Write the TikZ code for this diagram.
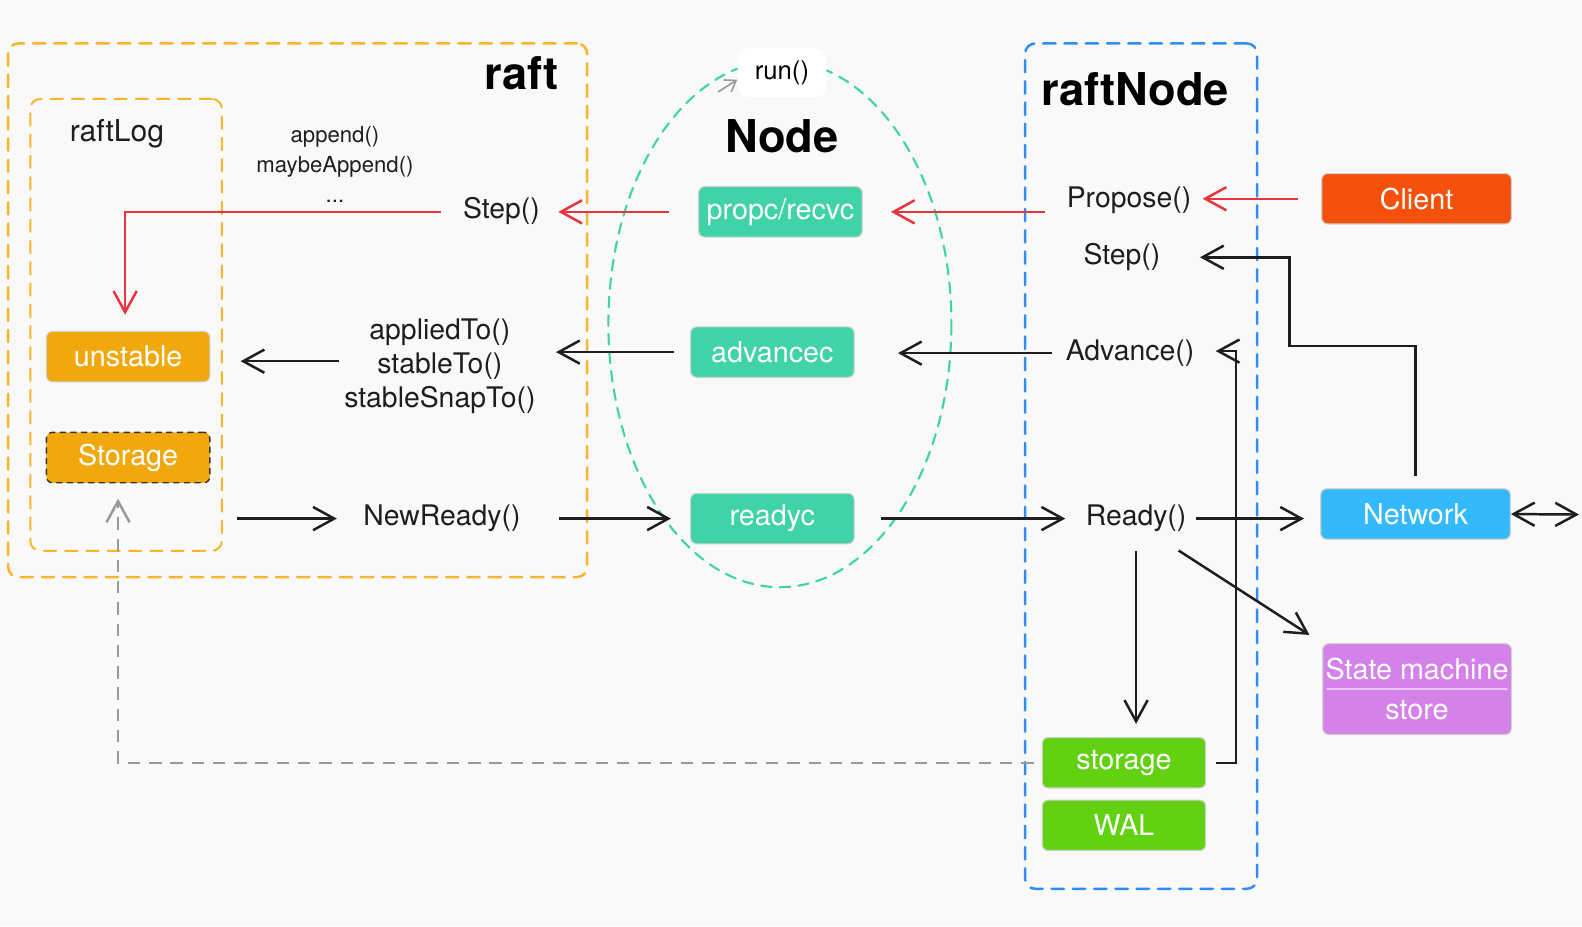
\documentclass[tikz,border=0pt]{standalone}
\usepackage{fontspec}
\setmainfont{TeX Gyre Heros}
\usepackage{tikz}
\usetikzlibrary{arrows.meta}
\definecolor{bggray}{HTML}{F9F9F9}
\definecolor{raftorange}{HTML}{F7B52C}
\definecolor{logorange}{HTML}{F0A80C}
\definecolor{chanteal}{HTML}{40D3A8}
\definecolor{raftred}{HTML}{E8343F}
\definecolor{nodeblue}{HTML}{2F8EF5}
\definecolor{clientred}{HTML}{F5500C}
\definecolor{netblue}{HTML}{33B9FC}
\definecolor{smpurple}{HTML}{D482EA}
\definecolor{walgreen}{HTML}{62D111}
\definecolor{linegray}{HTML}{1E1E1E}

\begin{document}
\begin{tikzpicture}[x=0.02cm, y=-0.02cm, every path/.style={line cap=round}]

        \tikzset{box/.style = {rectangle, rounded corners=0.12cm, draw=black!18, line width=0.6pt, text=white,
                minimum width=3.24cm, minimum height=1cm, inner sep=0pt, font=\fontsize{16.2}{19}\selectfont}}
        \tikzset{fn/.style = {inner sep=0pt, text=linegray, font=\fontsize{16}{19}\selectfont}}
        \tikzset{title/.style = {inner sep=0pt, text=black, font=\fontsize{25.5}{30}\selectfont\bfseries}}
        \tikzset{frame/.style = {rectangle, rounded corners=0.2cm, line width=1.4pt, dash pattern=on 7pt off 5pt, inner sep=0pt}}
        \tikzset{edge/.style = {draw=linegray, line width=1.4pt, line cap=butt, -{Straight Barb[length=0.42cm,width=0.46cm,line width=1.4pt]}}}
        \tikzset{redge/.style = {edge, draw=raftred, line width=1.2pt}}

        \useasboundingbox[fill=bggray] (0,0) rectangle (1568,918);

        % containers
        \node[frame, draw=raftorange, minimum width=11.48cm, minimum height=10.58cm] (raft) at (295,307.5) {};
        \node[frame, draw=raftorange, line width=1.1pt, minimum width=3.8cm, minimum height=8.96cm] (raftlog) at (125,322) {};
        \node[frame, draw=nodeblue, minimum width=4.6cm, minimum height=16.76cm] (raftnode) at (1131,462) {};
        \draw[chanteal, line width=1.2pt, dash pattern=on 6pt off 4.5pt] (773,321) ellipse (170 and 261);

        % titles
        \node[title] (rafttitle) at (517,73) {raft};
        \node[title] (nodetitle) at (775,135) {Node};
        \node[title] (raftnodetitle) at (1125,88) {raftNode};
        \node[fn, font=\fontsize{17}{20}\selectfont] (raftlogtitle) at (116,133) {raftLog};
        \node[fill=white, rounded corners=0.2cm, minimum width=1.76cm, minimum height=0.96cm, inner sep=0pt,
              font=\fontsize{14.5}{17}\selectfont] (run) at (775,72) {run()};
        \coordinate (ringarrow) at (712,91);
        \draw[black!40, line width=0.9pt, -{Straight Barb[length=0.2cm,width=0.28cm]}]
              (ringarrow) -- ([yshift=-0.14cm]run.west);

        % raft
        \node[box, fill=logorange] (unstable) at (127,353.5) {unstable};
        \node[box, fill=logorange, draw=black!80, dashed, line width=0.8pt] (logstore) at (127,453.5) {Storage};
        \node[fn, align=center, font=\fontsize{12.5}{17}\selectfont] (appendfn) at (332,163) {append()\\maybeAppend()\\...};
        \node[fn] (step1) at (497,209) {Step()};
        \node[fn, align=center, font=\fontsize{16}{19}\selectfont] (applied) at (436,363) {appliedTo()\\stableTo()\\stableSnapTo()};
        \node[fn] (newready) at (438,514) {NewReady()};

        % Node
        \node[box, fill=chanteal] (propc) at (773.5,210) {propc/recvc};
        \node[box, fill=chanteal] (advancec) at (765.5,349) {advancec};
        \node[box, fill=chanteal] (readyc) at (765.5,514) {readyc};

        % raftNode
        \node[fn] (propose) at (1119,198) {Propose()};
        \node[fn] (step2) at (1112,255) {Step()};
        \node[fn] (advance) at (1120,350) {Advance()};
        \node[fn] (ready) at (1126,514) {Ready()};
        \node[box, fill=walgreen] (appstorage) at (1114,756) {storage};
        \node[box, fill=walgreen] (wal) at (1114,818) {WAL};

        % outside
        \node[box, fill=clientred, minimum width=3.76cm] (client) at (1404,197) {Client};
        \node[box, fill=netblue, minimum width=3.76cm] (network) at (1403,509.5) {Network};
        \node[box, fill=smpurple, minimum width=3.74cm, minimum height=1.8cm, align=center,
              font=\fontsize{16.2}{22.7}\selectfont] (sm) at (1404.5,683) {State machine\\store};
        \draw[smpurple!45!white, line width=1pt] ([xshift=0.1cm]sm.west) -- ([xshift=-0.1cm]sm.east);
        \coordinate (outside) at (1565,510);
        \coordinate (netbend) at (1278,343);
        \coordinate (advbend) at (1225,348);

        % red path
        \draw[redge, shorten <=0.42cm, shorten >=0.56cm] (propose.west |- propc.west) -- (propc.east);
        \draw[redge, shorten <=0.46cm, shorten >=0.22cm] (client.west) -- (client.west -| propose.east);
        \draw[redge, shorten <=0.58cm, shorten >=0.36cm] (propc.west) -- (propc.west -| step1.east);
        \draw[redge, shorten <=0.44cm, shorten >=0.32cm] (step1.west |- propc.west) -| ([xshift=-0.06cm]unstable.north);

        % advance path
        \draw[edge, shorten <=0.26cm, shorten >=0.86cm] (advance.west) -- (advance.west -| advancec.east);
        \draw[edge, shorten <=0.32cm, shorten >=0.4cm] (advancec.west) -- (advancec.west -| applied.east);
        \draw[edge, shorten <=0.1cm, shorten >=0.6cm] ([yshift=0.1cm]applied.west) -- ([yshift=0.1cm]applied.west -| unstable.east);

        % ready path
        \draw[edge, shorten <=0.28cm, shorten >=0.52cm] (raftlog.east |- newready.west) -- (newready.west);
        \draw[edge, shorten <=0.76cm, shorten >=0.38cm] (newready.east) -- (readyc.west);
        \draw[edge, shorten <=0.52cm, shorten >=0.4cm] (readyc.east) -- (ready.west);
        \draw[edge, shorten <=0.18cm, shorten >=0.32cm] (ready.east) -- (ready.east -| network.west);
        \draw[edge, shorten <=0.36cm, shorten >=0.26cm] (ready.south) -- (ready.south |- appstorage.north);
        \draw[edge, shorten >=0.3cm] ([xshift=-0.16cm, yshift=-0.36cm]ready.south east) -- (sm.north west);
        \draw[edge, {Straight Barb[length=0.42cm,width=0.46cm,line width=1.4pt]}-{Straight Barb[length=0.42cm,width=0.46cm,line width=1.4pt]}]
              (network.east) -- (outside);
        \draw[edge, shorten <=0.24cm, shorten >=0.78cm] (network.north) |- (netbend) |- (step2.east);
        \draw[edge, shorten <=0.2cm, shorten >=0.42cm] (appstorage.east) -| (advbend) -- (advbend -| advance.east);

        % back to Storage
        \draw[edge, draw=black!40, line width=1.2pt, dash pattern=on 7pt off 5pt, shorten <=0.16cm, shorten >=0.3cm]
              (appstorage.west) -| ([xshift=-0.2cm]logstore.south);
\end{tikzpicture}
\end{document}
